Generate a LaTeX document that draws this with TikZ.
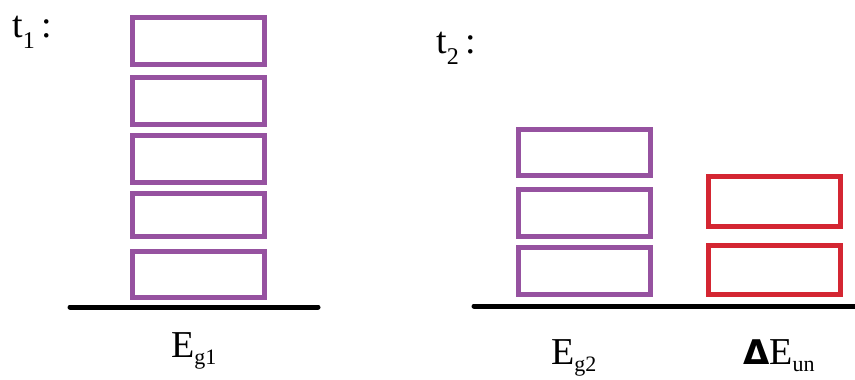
\documentclass[tikz,border=0pt]{standalone}
\usepackage{fontspec}
\setmainfont{Liberation Serif}
\newfontfamily\deltafont{DejaVu Sans}
\definecolor{boxpurple}{RGB}{150,82,160}
\definecolor{boxred}{RGB}{212,38,50}
\newcommand{\lowsub}[1]{\raisebox{-7pt}{\fontsize{22}{22}\selectfont #1}}
\begin{document}
\begin{tikzpicture}[x=1pt,y=-1pt,
  blk/.style={draw=boxpurple,line width=5pt,minimum width=132pt,minimum height=47pt,inner sep=0pt},
  redblk/.style={blk,draw=boxred},
  ground/.style={line width=5pt,line cap=round},
  lbl/.style={font=\fontsize{38}{38}\selectfont,anchor=base west,inner sep=0pt},
  tlbl/.style={font=\fontsize{38}{38}\selectfont,anchor=base west,inner sep=0pt}]
\path[use as bounding box,fill=white] (0,0) rectangle (855,380);
% left stack
\node[blk] (a1) at (198.5,41) {};
\node[blk] (a2) at (198.5,101) {};
\node[blk] (a3) at (198.5,159) {};
\node[blk,minimum height=43pt] (a4) at (198.5,215) {};
\node[blk,minimum height=46pt] (a5) at (198.5,274.5) {};
\coordinate (g1l) at (70,307);
\coordinate (g1r) at (318,307);
\draw[ground] (g1l) -- (g1r);
\node[lbl] (e1) at (171,357) {E\lowsub{g1}};
\node[tlbl] (t1) at (12,37) {t\raisebox{-11pt}{\fontsize{24}{24}\selectfont 1}\,:};
% right purple stack
\node[blk,minimum height=46pt] (b1) at (584.5,152.5) {};
\node[blk] (b2) at (584.5,213) {};
\node[blk] (b3) at (584.5,271) {};
% red stack
\node[redblk,minimum height=50pt] (c1) at (774.5,201.5) {};
\node[redblk,minimum height=49pt] (c2) at (774.5,270) {};
\coordinate (g2l) at (474,306);
\coordinate (g2r) at (860,306);
\draw[ground] (g2l) -- (g2r);
\node[lbl] (e2) at (551,364) {E\lowsub{g2}};
\node[lbl] (e3) at (743,364) {{\deltafont\bfseries\fontsize{34}{34}\selectfont Δ}E\lowsub{un}};
\node[tlbl] (t2) at (436,53) {t\raisebox{-11pt}{\fontsize{24}{24}\selectfont 2}\,:};
\end{tikzpicture}
\end{document}
